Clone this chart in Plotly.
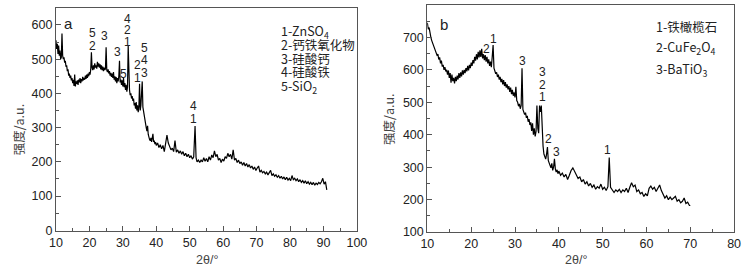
import plotly.graph_objects as go

# ---------------- data: panel a ----------------
a_x = [10.0,10.2,10.4,10.6,10.8,11.0,11.2,11.4,11.6,11.8,12.0,12.2,12.4,12.6,12.8,13.0,13.2,13.4,13.6,13.8,
       14.0,14.2,14.4,14.6,14.8,15.0,15.2,15.4,15.6,15.8,16.0,16.2,16.4,16.6,16.8,17.0,17.2,17.4,17.6,17.8,
       18.0,18.2,18.4,18.6,18.8,19.0,19.2,19.4,19.6,19.8,20.0,20.2,20.4,20.6,20.8,21.0,21.2,21.4,21.6,21.8,
       22.0,22.2,22.4,22.6,22.8,23.0,23.2,23.4,23.6,23.8,24.0,24.2,24.4,24.6,24.8,25.0,25.2,25.4,25.6,25.8,
       26.0,26.2,26.4,26.6,26.8,27.0,27.2,27.4,27.6,27.8,28.0,28.2,28.4,28.6,28.8,29.0,29.2,29.4,29.6,29.8,
       30.0,30.2,30.4,30.6,30.8,31.0,31.2,31.4,31.6,31.8,32.0,32.2,32.4,32.6,32.8,33.0,33.2,33.4,33.6,33.8,
       34.0,34.2,34.4,34.6,34.8,35.0,35.2,35.4,35.6,35.8,36.0,36.2,36.4,36.6,36.8,37.0,37.2,37.4,37.6,37.8,
       38.0,38.2,38.4,38.6,38.8,39.0,39.2,39.4,39.6,39.8,40.0,40.4,40.8,41.2,41.6,42.0,42.4,42.8,43.2,43.6,
       44.0,44.4,44.8,45.2,45.6,46.0,46.4,46.8,47.2,47.6,48.0,48.4,48.8,49.2,49.6,50.0,50.4,50.8,51.2,51.6,
       51.9,52.2,52.6,53.0,53.4,53.8,54.2,54.6,55.0,55.4,55.8,56.2,56.6,57.0,57.4,57.8,58.2,58.6,59.0,59.4,
       59.8,60.2,60.6,61.0,61.4,61.8,62.2,62.6,63.0,63.4,63.8,64.2,64.6,65.0,65.4,65.8,66.2,66.6,67.0,67.4,
       67.8,68.2,68.6,69.0,69.4,69.8,70.2,70.6,71.0,71.4,71.8,72.2,72.6,73.0,73.4,73.8,74.2,74.6,75.0,75.4,
       75.8,76.2,76.6,77.0,77.4,77.8,78.2,78.6,79.0,79.4,79.8,80.2,80.6,81.0,81.4,81.8,82.2,82.6,83.0,83.4,
       83.8,84.2,84.6,85.0,85.4,85.8,86.2,86.6,87.0,87.4,87.8,88.2,88.6,89.0,89.4,89.8,90.2,90.6,91.0]
a_y = [555,530,545,515,540,510,525,500,505,575,510,500,505,490,495,478,482,465,470,452,
       458,445,452,438,445,430,440,422,455,420,435,428,438,425,440,432,445,430,442,435,
       448,438,445,440,452,442,455,445,458,450,462,455,470,520,475,468,482,470,488,475,
       482,472,492,478,488,475,485,470,482,468,478,465,475,468,472,535,468,462,470,458,
       465,452,460,448,458,445,462,440,450,435,448,430,445,435,450,495,432,440,425,438,
       420,445,418,430,410,425,405,418,540,420,410,395,400,385,392,378,385,365,372,355,
       375,350,365,345,360,428,350,365,410,435,360,345,330,318,305,300,290,305,280,270,
       265,262,270,258,268,282,258,262,252,258,248,255,242,250,238,248,230,250,278,255,
       242,235,240,230,262,228,235,225,232,222,230,218,225,215,222,212,218,208,215,305,
       212,200,205,198,205,200,212,202,210,200,215,205,220,212,232,215,222,205,210,198,
       208,202,215,210,225,215,222,208,235,205,210,198,205,195,200,190,198,188,195,185,
       192,182,188,178,185,175,182,188,170,175,168,172,165,170,162,168,175,160,165,158,
       162,155,160,152,158,150,156,148,155,147,152,145,160,148,152,145,150,142,148,140,
       145,138,145,136,142,135,140,133,140,132,138,134,140,136,142,152,135,142,118]

# ---------------- data: panel b ----------------
b_x = [10.0,10.2,10.4,10.6,10.8,11.0,11.2,11.4,11.6,11.8,12.0,12.2,12.4,12.6,12.8,13.0,13.2,13.4,13.6,13.8,
       14.0,14.2,14.4,14.6,14.8,15.0,15.2,15.4,15.6,15.8,16.0,16.2,16.4,16.6,16.8,17.0,17.2,17.4,17.6,17.8,
       18.0,18.2,18.4,18.6,18.8,19.0,19.2,19.4,19.6,19.8,20.0,20.2,20.4,20.6,20.8,21.0,21.2,21.4,21.6,21.8,
       22.0,22.2,22.4,22.6,22.8,23.0,23.2,23.4,23.6,23.8,24.0,24.2,24.4,24.6,24.8,25.0,25.2,25.4,25.6,25.8,
       26.0,26.2,26.4,26.6,26.8,27.0,27.2,27.4,27.6,27.8,28.0,28.2,28.4,28.6,28.8,29.0,29.2,29.4,29.6,29.8,
       30.0,30.2,30.4,30.6,30.8,31.0,31.2,31.4,31.6,31.8,32.0,32.2,32.4,32.6,32.8,33.0,33.2,33.4,33.6,33.8,
       34.0,34.2,34.4,34.6,34.8,35.0,35.2,35.4,35.6,35.8,36.0,36.2,36.4,36.6,36.8,37.0,37.2,37.4,37.6,37.8,
       38.0,38.2,38.4,38.6,38.8,39.0,39.2,39.4,39.6,39.8,40.0,40.4,40.8,41.2,41.6,42.0,42.4,42.8,43.2,43.6,
       44.0,44.4,44.8,45.2,45.6,46.0,46.4,46.8,47.2,47.6,48.0,48.4,48.8,49.2,49.6,50.0,50.4,50.8,51.2,51.5,
       51.8,52.2,52.6,53.0,53.4,53.8,54.2,54.6,55.0,55.4,55.8,56.2,56.6,57.0,57.4,57.8,58.2,58.6,59.0,59.4,
       59.8,60.2,60.6,61.0,61.4,61.8,62.2,62.6,63.0,63.4,63.8,64.2,64.6,65.0,65.4,65.8,66.2,66.6,67.0,67.4,
       67.8,68.2,68.6,69.0,69.4,69.8,70.0]
b_y = [745,725,730,710,700,690,682,675,668,660,655,645,648,632,638,620,628,610,615,600,
       608,595,600,585,598,575,590,560,585,565,575,558,578,565,582,570,590,575,592,580,
       598,585,600,590,605,595,612,598,615,605,622,612,630,620,640,628,648,632,655,638,
       660,640,665,635,648,630,645,625,640,620,632,612,625,608,640,676,605,595,588,592,
       578,585,570,578,562,572,555,568,550,562,545,555,540,550,532,545,525,538,520,530,
       515,548,505,500,488,495,480,490,605,478,470,462,468,452,458,440,448,430,438,412,
       435,400,420,395,410,490,420,405,490,470,490,400,365,340,330,325,340,362,320,310,
       305,298,312,290,300,326,295,285,292,280,288,275,282,270,278,262,275,290,298,285,
       278,265,270,255,262,248,255,242,250,238,245,232,240,235,248,232,238,228,240,330,
       238,230,222,230,225,232,222,230,225,235,222,238,252,240,245,225,230,218,222,210,
       218,212,235,242,232,238,225,235,245,228,218,205,212,200,208,200,205,210,195,200,
       190,195,205,188,192,182,182]

# ---------------- peak labels ----------------
a_lab_x = [20.8, 20.8, 24.6, 28.4, 30.2, 31.4, 31.4, 31.4, 34.3, 34.3, 36.6, 36.6, 36.6, 51.0, 51.0]
a_lab_y = [576, 539, 569, 522, 457, 617, 584, 549, 482, 446, 533, 498, 460, 362, 324]
a_lab_t = ["5", "2", "3", "3", "5", "4", "2", "1", "2", "1", "5", "4", "3", "4", "1"]

b_lab_x = [23.5, 25.2, 31.7, 36.2, 36.2, 36.2, 37.6, 39.5, 51.2]
b_lab_y = [664, 694, 626, 594, 552, 516, 387, 347, 352]
b_lab_t = ["2", "1", "3", "3", "2", "1", "2", "3", "1"]

# ---------------- phase keys ----------------
a_key = ["1-ZnSO<sub>4</sub>", "2-钙铁氧化物", "3-硅酸钙", "4-硅酸铁", "5-SiO<sub>2</sub>"]
a_key_y = [581, 543, 503, 465, 421]
b_key = ["1-铁橄榄石", "2-CuFe<sub>2</sub>O<sub>4</sub>", "3-BaTiO<sub>3</sub>"]
b_key_y = [733, 668, 602]

W, H = 749, 276
FONT = "Liberation Sans, Arial, Noto Sans CJK SC, sans-serif"
CJK = "Noto Sans CJK SC, Liberation Sans, sans-serif"
AX = "#555555"
TXT = "#222222"

fig = go.Figure()
fig.add_trace(go.Scatter(x=a_x, y=a_y, mode="lines", line=dict(color="black", width=1.2),
                         xaxis="x", yaxis="y", showlegend=False, hoverinfo="skip"))
fig.add_trace(go.Scatter(x=b_x, y=b_y, mode="lines", line=dict(color="black", width=1.2),
                         xaxis="x2", yaxis="y2", showlegend=False, hoverinfo="skip"))

def axis(rng, dtick, mdtick, domain, anchor):
    return dict(range=rng, dtick=dtick, tick0=0, domain=domain, anchor=anchor,
                showline=True, mirror=True, linecolor=AX, linewidth=1,
                ticks="inside", ticklen=5, tickcolor=AX, tickwidth=1,
                minor=dict(dtick=mdtick, ticks="inside", ticklen=3, tickcolor=AX, tickwidth=1),
                showgrid=False, zeroline=False,
                tickfont=dict(family=FONT, size=12.5, color=TXT))

ya_dom = [1 - 236.5 / H, 1 - 8 / H]
yb_dom = [1 - 238.3 / H, 1 - 5 / H]
fig.update_layout(
    width=W, height=H, margin=dict(l=0, r=0, t=0, b=0),
    paper_bgcolor="white", plot_bgcolor="white",
    xaxis=axis([9.97, 100], 10, 5, [50 / W, 358 / W], "y"),
    yaxis=axis([-0.5, 650], 100, 50, ya_dom, "x"),
    xaxis2=axis([9.97, 80], 10, 5, [430 / W, 744 / W], "y2"),
    yaxis2=axis([99.6, 800], 100, 50, yb_dom, "x2"),
)

def note(x, y, text, xref, yref, size, family=FONT, xanchor="center", **kw):
    return dict(x=x, y=y, xref=xref, yref=yref, text=text, showarrow=False,
                xanchor=xanchor, yanchor="middle",
                font=dict(family=family, size=size, color=kw.pop("color", TXT)), **kw)

ann = []
for x, y, t in zip(a_lab_x, a_lab_y, a_lab_t):
    ann.append(note(x, y, t, "x", "y", 12))
for x, y, t in zip(b_lab_x, b_lab_y, b_lab_t):
    ann.append(note(x, y, t, "x2", "y2", 12))
for y, t in zip(a_key_y, a_key):
    ann.append(note(76.6, y, t, "x", "y", 12.5, family=CJK, xanchor="left"))
for y, t in zip(b_key_y, b_key):
    ann.append(note(61.7, y, t, "x2", "y2", 12.5, family=CJK, xanchor="left"))
ann.append(note(13.8, 603, "a", "x", "y", 15))
ann.append(note(13.7, 741, "b", "x2", "y2", 15))
# axis titles
for xp, yp in [(12, 133), (391, 123)]:
    ann.append(note(xp / W, 1 - yp / H, "强度/a.u.", "paper", "paper", 12.5, family=CJK,
                    textangle=-90, color="#444444"))
for xp in [205, 582]:
    ann.append(note(xp / W, 1 - 267 / H, "2θ/°", "paper", "paper", 12.5, color="#444444"))
fig.update_layout(annotations=ann)

fig.write_html("out.html", config={"displayModeBar": False},
               post_script="document.body.style.margin='0';document.body.style.overflow='hidden';")
